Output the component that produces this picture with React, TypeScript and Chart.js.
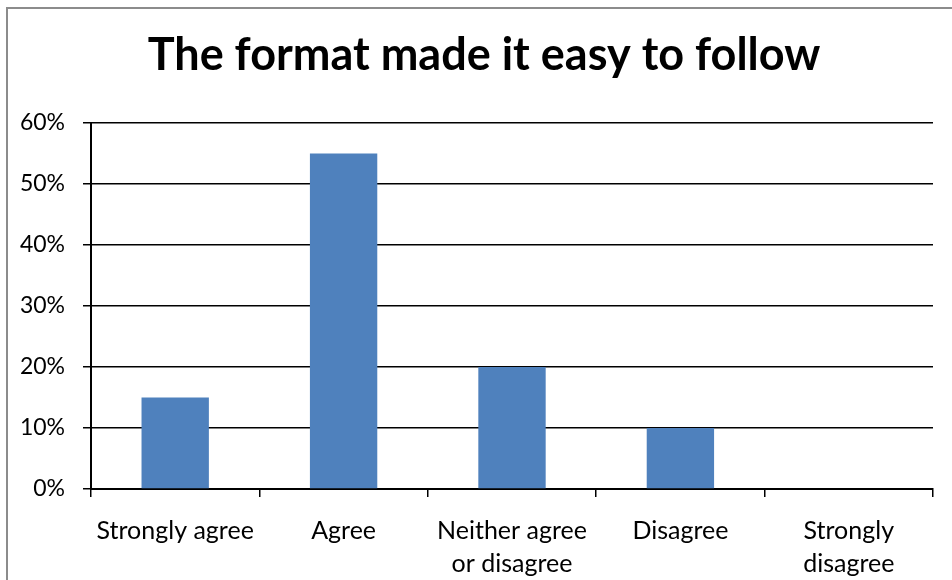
import React, { useEffect, useRef } from "react";
import { Chart, registerables } from "chart.js";

Chart.register(...registerables);

const title = "The format made it easy to follow";
const categories: (string | string[])[] = [
  "Strongly agree",
  "Agree",
  ["Neither agree", "or disagree"],
  "Disagree",
  ["Strongly", "disagree"],
];
const values = [15, 55, 20, 10, 0];
const yMax = 60;
const yStep = 10;

const titleShift = {
  id: "titleShift",
  afterLayout(chart: any) {
    const t = chart.titleBlock;
    if (t) {
      t.left = 35;
    }
  },
};

export default function App() {
  const ref = useRef<HTMLCanvasElement>(null);
  useEffect(() => {
    if (!ref.current) return;
    const chart = new Chart(ref.current, {
      type: "bar",
      data: {
        labels: categories,
        datasets: [
          {
            data: values,
            backgroundColor: "#4F81BD",
            borderWidth: 0,
            categoryPercentage: 1,
            barPercentage: 0.4,
          },
        ],
      },
      plugins: [titleShift],
      options: {
        animation: false,
        responsive: false,
        maintainAspectRatio: false,
        layout: { padding: { left: 0, right: 19, top: 0, bottom: 0 } },
        plugins: {
          legend: { display: false },
          tooltip: { enabled: false },
          title: {
            display: true,
            text: title,
            color: "#000",
            font: { family: "Lato", size: 45, weight: "bold", lineHeight: 1.2 },
            padding: { top: 28, bottom: 41 },
          },
        },
        scales: {
          x: {
            offset: true,
            grid: {
              offset: true,
              drawOnChartArea: false,
              drawTicks: true,
              tickLength: 8,
              color: "#000",
              lineWidth: 1.5,
            },
            border: { display: true, color: "#000", width: 2 },
            ticks: {
              color: "#000",
              font: { family: "Lato", size: 25, lineHeight: 1.32 },
              padding: 17,
              maxRotation: 0,
              autoSkip: false,
            },
            afterFit: (s: any) => {
              s.height = 91;
            },
          },
          y: {
            min: 0,
            max: yMax,
            grid: {
              color: "#000",
              lineWidth: 1.5,
              drawTicks: true,
              tickLength: 8,
            },
            border: { display: true, color: "#000", width: 2 },
            ticks: {
              stepSize: yStep,
              color: "#000",
              font: { family: "Lato", size: 23 },
              padding: 18,
              callback: (v: any) => v + "%",
            },
            afterFit: (s: any) => {
              s.width = 91;
            },
          },
        },
      },
    });
    return () => chart.destroy();
  }, []);
  return (
    <div style={{ position: "fixed", left: 0, top: 0, width: 952, height: 580, background: "#fff", overflow: "hidden" }}>
      <div
        style={{
          position: "absolute",
          left: 6,
          top: 7,
          width: 1000,
          height: 1000,
          border: "2px solid #8c8c8c",
          boxSizing: "border-box",
        }}
      />
      <canvas ref={ref} width={952} height={580} style={{ position: "absolute", left: 0, top: 0, width: 952, height: 580 }} />
    </div>
  );
}
